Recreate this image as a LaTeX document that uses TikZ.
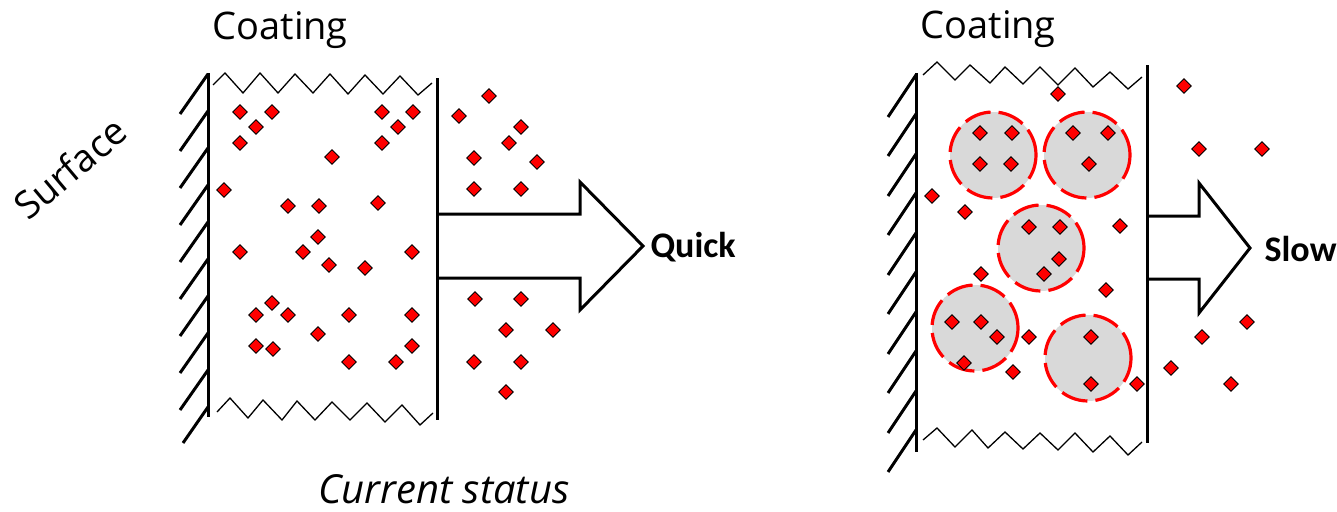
\documentclass[tikz,border=0pt]{standalone}
\usepackage{fontspec}
\setmainfont{Open Sans}
\newfontfamily\calib{Carlito}
\usetikzlibrary{shapes.geometric}

\begin{document}
\begin{tikzpicture}[x=1pt,y=1pt,
  particle/.style={diamond,draw=black,fill=red,line width=0.9pt,inner sep=0pt,minimum size=15pt},
  grain/.style={circle,draw=red,fill=black!15,line width=3.2pt,dash pattern=on 27pt off 8pt,inner sep=0pt,minimum size=86pt},
  wall/.style={line width=3pt},
  edge/.style={line width=1.3pt}]
\useasboundingbox (0,0) rectangle (1337,-511);
% left: current status
\draw [wall] (208,-73) -- (208,-417);
\draw [wall] (208,-74) -- (180,-114) (208,-111) -- (180,-151) (208,-148) -- (180,-188)
  (208,-185) -- (180,-225) (208,-222) -- (180,-262) (208,-259) -- (180,-299)
  (208,-296) -- (180,-336) (208,-333) -- (180,-373) (208,-370) -- (180,-410)
  (208,-407) -- (183,-443);
\draw [wall] (437,-78) -- (437,-420);
\draw [edge] (213,-85) -- (225,-73) -- (243,-93) -- (260,-73) -- (278,-93) -- (295,-74) -- (313,-93)
  -- (330,-74) -- (348,-94) -- (365,-75) -- (383,-94) -- (400,-76) -- (418,-95) -- (432,-83);
\draw [edge] (217,-412) -- (230,-398) -- (248,-418) -- (263,-400) -- (282,-420) -- (297,-401) -- (315,-420)
  -- (332,-402) -- (350,-420) -- (367,-403) -- (385,-422) -- (402,-405) -- (420,-425) -- (433,-413);
\draw [wall] (437,-214) -- (580,-214) -- (580,-182) -- (643,-246) -- (580,-310) -- (580,-278) -- (437,-278);
\node [particle] (l1) at (240,-112) {};
\node [particle] (l2) at (272,-112) {};
\node [particle] (l3) at (256,-127) {};
\node [particle] (l4) at (240,-143) {};
\node [particle] (l5) at (382,-112) {};
\node [particle] (l6) at (413,-112) {};
\node [particle] (l7) at (398,-127) {};
\node [particle] (l8) at (382,-143) {};
\node [particle] (l9) at (332,-157) {};
\node [particle] (l10) at (224,-190) {};
\node [particle] (l11) at (288,-206) {};
\node [particle] (l12) at (319,-206) {};
\node [particle] (l13) at (378,-203) {};
\node [particle] (l14) at (318,-237) {};
\node [particle] (l15) at (240,-252) {};
\node [particle] (l16) at (303,-252) {};
\node [particle] (l17) at (329,-265) {};
\node [particle] (l18) at (365,-268) {};
\node [particle] (l19) at (412,-252) {};
\node [particle] (l20) at (272,-303) {};
\node [particle] (l21) at (256,-315) {};
\node [particle] (l22) at (288,-315) {};
\node [particle] (l23) at (349,-315) {};
\node [particle] (l24) at (412,-315) {};
\node [particle] (l25) at (318,-334) {};
\node [particle] (l26) at (256,-346) {};
\node [particle] (l27) at (273,-349) {};
\node [particle] (l28) at (349,-362) {};
\node [particle] (l29) at (396,-362) {};
\node [particle] (l30) at (412,-346) {};
\node [particle] (lo1) at (489,-96) {};
\node [particle] (lo2) at (459,-116) {};
\node [particle] (lo3) at (521,-127) {};
\node [particle] (lo4) at (509,-143) {};
\node [particle] (lo5) at (474,-158) {};
\node [particle] (lo6) at (537,-162) {};
\node [particle] (lo7) at (474,-189) {};
\node [particle] (lo8) at (521,-189) {};
\node [particle] (lo9) at (475,-299) {};
\node [particle] (lo10) at (521,-299) {};
\node [particle] (lo11) at (506,-330) {};
\node [particle] (lo12) at (553,-330) {};
\node [particle] (lo13) at (474,-362) {};
\node [particle] (lo14) at (521,-362) {};
\node [particle] (lo15) at (506,-392) {};
\node [anchor=base west] (coatl) at (209,-40) {\fontsize{38}{40}\selectfont Coating};
\node [rotate=40] (surf) at (70,-168) {\fontsize{38}{40}\selectfont Surface};
\node [anchor=base west,inner sep=0pt,text depth=0pt] (stat) at (318,-503) {\fontsize{40}{42}\selectfont\itshape Current status};
\node [anchor=west] (quick) at (647,-247) {\fontsize{36}{40}\selectfont\calib\bfseries Quick};
% right: with grains
\draw [wall] (916,-73) -- (916,-452);
\draw [wall] (916,-75) -- (888,-117) (916,-114) -- (888,-156) (916,-154) -- (888,-196)
  (916,-193) -- (888,-235) (916,-233) -- (888,-275) (916,-272) -- (888,-314)
  (916,-312) -- (888,-354) (916,-351) -- (888,-393) (916,-391) -- (888,-433)
  (916,-430) -- (888,-472);
\draw [wall] (1147,-65) -- (1147,-443);
\draw [edge] (923,-75) -- (937,-62) -- (955,-80) -- (970,-65) -- (990,-83) -- (1005,-67) -- (1023,-84)
  -- (1040,-67) -- (1058,-85) -- (1075,-68) -- (1093,-87) -- (1110,-72) -- (1128,-89) -- (1142,-77);
\draw [edge] (923,-440) -- (937,-428) -- (955,-447) -- (972,-430) -- (988,-448) -- (1005,-432) -- (1023,-449)
  -- (1040,-433) -- (1058,-450) -- (1075,-433) -- (1093,-452) -- (1110,-436) -- (1128,-455) -- (1142,-442);
\draw [wall] (1147,-216) -- (1199,-216) -- (1199,-183) -- (1250,-248) -- (1199,-313) -- (1199,-279) -- (1147,-279);
\node [grain] (g1) at (993,-155) {};
\node [grain] (g2) at (1087,-155) {};
\node [grain] (g3) at (1041,-248) {};
\node [grain] (g4) at (975,-328) {};
\node [grain] (g5) at (1088,-358) {};
\node [particle] (r1) at (1058,-94) {};
\node [particle] (r2) at (980,-133) {};
\node [particle] (r3) at (1012,-133) {};
\node [particle] (r4) at (980,-164) {};
\node [particle] (r5) at (1011,-164) {};
\node [particle] (r6) at (1073,-133) {};
\node [particle] (r7) at (1108,-133) {};
\node [particle] (r8) at (1089,-164) {};
\node [particle] (r9) at (932,-196) {};
\node [particle] (r10) at (965,-212) {};
\node [particle] (r11) at (1120,-226) {};
\node [particle] (r12) at (1029,-227) {};
\node [particle] (r13) at (1060,-227) {};
\node [particle] (r14) at (1059,-259) {};
\node [particle] (r15) at (1044,-274) {};
\node [particle] (r16) at (981,-274) {};
\node [particle] (r17) at (1106,-290) {};
\node [particle] (r18) at (952,-322) {};
\node [particle] (r19) at (981,-322) {};
\node [particle] (r20) at (997,-337) {};
\node [particle] (r21) at (964,-363) {};
\node [particle] (r22) at (1029,-337) {};
\node [particle] (r23) at (1013,-372) {};
\node [particle] (r24) at (1091,-337) {};
\node [particle] (r25) at (1091,-384) {};
\node [particle] (r26) at (1137,-384) {};
\node [particle] (ro1) at (1184,-86) {};
\node [particle] (ro2) at (1199,-149) {};
\node [particle] (ro3) at (1262,-149) {};
\node [particle] (ro4) at (1247,-322) {};
\node [particle] (ro5) at (1202,-337) {};
\node [particle] (ro6) at (1171,-368) {};
\node [particle] (ro7) at (1231,-384) {};
\node [anchor=base west] (coatr) at (917,-38) {\fontsize{38}{40}\selectfont Coating};
\node [anchor=west] (slow) at (1261,-249) {\fontsize{36}{40}\selectfont\calib\bfseries Slow};
\end{tikzpicture}
\end{document}
